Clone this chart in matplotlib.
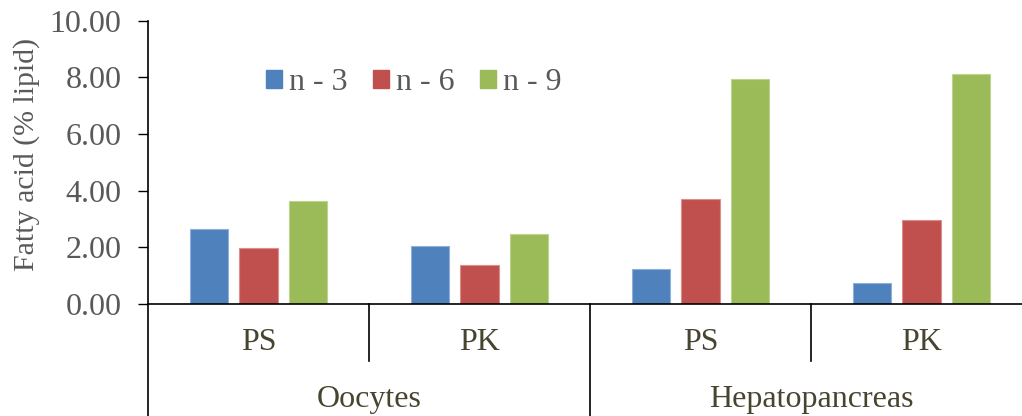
import matplotlib
matplotlib.use("Agg")
import matplotlib.pyplot as plt
import numpy as np
from matplotlib.patches import Patch
from matplotlib.transforms import blended_transform_factory

plt.rcParams["font.family"] = ["Liberation Serif", "DejaVu Serif"]

# ---------------------------------------------------------------------------
# Data
# ---------------------------------------------------------------------------
groups = ["Oocytes", "Hepatopancreas"]
sub_labels = ["PS", "PK", "PS", "PK"]
series = ["n - 3", "n - 6", "n - 9"]
n3 = [2.64, 2.04, 1.24, 0.74]
n6 = [1.96, 1.37, 3.70, 2.97]
n9 = [3.63, 2.47, 7.93, 8.10]
values = [n3, n6, n9]
colors = ["#4F81BD", "#C0504D", "#9BBB59"]
edges = ["#8FB0DA", "#DC8E8C", "#BCD48E"]
yticks = [0, 2, 4, 6, 8, 10]

TICK_GREY = "#595959"
CAT_COLOR = "#474530"
FS = 23

W, H = 1022, 416
fig = plt.figure(figsize=(W / 100, H / 100), dpi=100)
ax = fig.add_axes([148 / W, (H - 304) / H, 884 / W, (304 - 20.5) / H])

x = np.arange(len(sub_labels))
width = 0.172
step = 0.222
for i, (vals, c, ec) in enumerate(zip(values, colors, edges)):
    ax.bar(x + (i - 1) * step, vals, width, color=c, edgecolor=ec,
           linewidth=0.8, label=series[i], zorder=2)

ax.set_xlim(-0.5, 3.5)
ax.set_ylim(0, 10)
ax.set_yticks(yticks)
ax.set_yticklabels([f"{v:.2f}" for v in yticks])
ax.set_xticks([])
ax.tick_params(axis="y", direction="out", length=7, width=1.0,
               labelsize=FS, labelcolor=TICK_GREY, pad=12)
for s in ["top", "right"]:
    ax.spines[s].set_visible(False)
ax.spines["left"].set_linewidth(1.2)
ax.spines["bottom"].set_linewidth(1.2)

# Multi-level category axis below the plot
trans = blended_transform_factory(ax.transData, ax.transAxes)
ax_h = 304 - 20.5
inner_bottom = -(361 - 304) / ax_h
outer_bottom = -(H - 304 + 2) / ax_h
for b in [0.5, 2.5]:
    ax.plot([b, b], [0, inner_bottom], color="black", lw=1.2,
            transform=trans, clip_on=False)
for b in [-0.5, 1.5, 3.5]:
    ax.plot([b, b], [0, outer_bottom], color="black", lw=1.2,
            transform=trans, clip_on=False)

for xi, lab in zip(x, sub_labels):
    ax.text(xi, -(343 - 304) / ax_h, lab, transform=trans, ha="center",
            va="center", fontsize=FS, color=CAT_COLOR)
for gi, g in enumerate(groups):
    ax.text(2 * gi + 0.5, -(399 - 304) / ax_h, g, transform=trans,
            ha="center", va="center", fontsize=FS, color=CAT_COLOR)

fig.text(27 / W, 1 - 154 / H, "Fatty acid (% lipid)", rotation=90,
         ha="center", va="center", fontsize=21.5, color=TICK_GREY)

handles = [Patch(facecolor=c, edgecolor=c) for c in colors]
leg = ax.legend(handles, series, loc="center left",
                bbox_to_anchor=((266 - 148) / 884, 1 - (83 - 20.5) / ax_h),
                ncol=3, frameon=False, fontsize=FS, handlelength=0.5,
                handleheight=0.5, handletextpad=0.22, columnspacing=0.8,
                borderpad=0, borderaxespad=0)
for t in leg.get_texts():
    t.set_color(TICK_GREY)

fig.savefig("out.png", dpi=100)
